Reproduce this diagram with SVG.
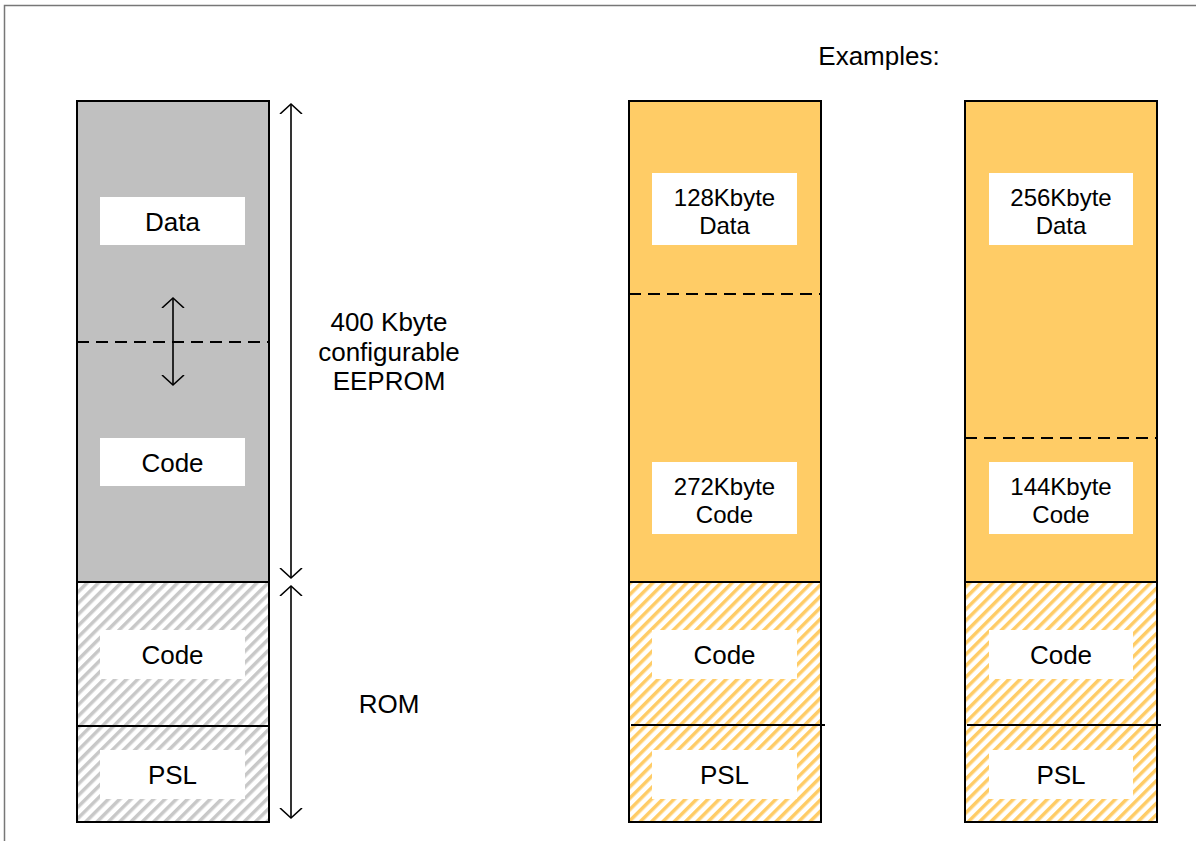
<svg xmlns="http://www.w3.org/2000/svg" width="1196" height="841" viewBox="0 0 1196 841">
<style>
text{font-family:"Liberation Sans",Arial,sans-serif;font-size:26px;fill:#000;text-anchor:middle}
text.s{font-size:24px}
.col{stroke:#000;stroke-width:2}
.lbl{fill:#fff;stroke:none}
.dash{stroke:#000;stroke-width:2;stroke-dasharray:12,7;fill:none}
.sol{stroke:#000;stroke-width:2;fill:none}
.arr{stroke:#000;stroke-width:1.6;fill:none;marker-start:url(#ah);marker-end:url(#ah)}
</style>
<defs>
<pattern id="hg" width="8" height="8" patternUnits="userSpaceOnUse" patternTransform="rotate(45)">
<rect width="8" height="8" fill="#fff"/><rect width="3.5" height="8" fill="#c8c8c8"/>
</pattern>
<pattern id="ho" width="8" height="8" patternUnits="userSpaceOnUse" patternTransform="rotate(45)">
<rect width="8" height="8" fill="#fff"/><rect width="3.5" height="8" fill="#ffcc66"/>
</pattern>
<marker id="ah" viewBox="0 0 20 24" refX="10" refY="12" markerWidth="20" markerHeight="24" markerUnits="userSpaceOnUse" orient="auto-start-reverse">
<path d="M0,1 L10,12 L0,23" fill="none" stroke="#000" stroke-width="1.6"/>
</marker>
</defs>
<rect width="1196" height="841" fill="#fff"/>
<path d="M4.5,841 V5.5 H1196" fill="none" stroke="#777" stroke-width="1.5"/>

<g id="left-column">
<rect x="77" y="101" width="192" height="481" fill="#c0c0c0" class="col"/>
<rect x="77" y="582" width="192" height="240" fill="url(#hg)" class="col"/>
<line x1="77" y1="342" x2="269" y2="342" class="dash"/>
<line x1="77" y1="726" x2="269" y2="726" class="sol"/>
</g>
<g id="left-data"><rect x="100" y="197" width="145" height="48" class="lbl"/><text x="172.5" y="231">Data</text></g>
<g id="left-code"><rect x="100" y="438" width="145" height="48" class="lbl"/><text x="172.5" y="472">Code</text></g>
<g id="left-rom-code"><rect x="100" y="630" width="145" height="49" class="lbl"/><text x="172.5" y="664">Code</text></g>
<g id="left-psl"><rect x="100" y="750" width="145" height="49" class="lbl"/><text x="172.5" y="784">PSL</text></g>

<g id="mid-column">
<rect x="629" y="101" width="192" height="481" fill="#ffcc66" class="col"/>
<rect x="629" y="582" width="192" height="240" fill="url(#ho)" class="col"/>
<line x1="629" y1="294" x2="821" y2="294" class="dash"/>
<line x1="631" y1="725" x2="825" y2="725" class="sol"/>
</g>
<g id="mid-data"><rect x="652" y="173" width="145" height="72" class="lbl"/><text class="s" x="724.5" y="206">128Kbyte</text><text class="s" x="724.5" y="234">Data</text></g>
<g id="mid-code"><rect x="652" y="462" width="145" height="72" class="lbl"/><text class="s" x="724.5" y="495">272Kbyte</text><text class="s" x="724.5" y="523">Code</text></g>
<g id="mid-rom-code"><rect x="652" y="630" width="145" height="49" class="lbl"/><text x="724.5" y="664">Code</text></g>
<g id="mid-psl"><rect x="652" y="750" width="145" height="49" class="lbl"/><text x="724.5" y="784">PSL</text></g>

<g id="right-column">
<rect x="965" y="101" width="192" height="481" fill="#ffcc66" class="col"/>
<rect x="965" y="582" width="192" height="240" fill="url(#ho)" class="col"/>
<line x1="965" y1="438" x2="1157" y2="438" class="dash"/>
<line x1="967" y1="725" x2="1161" y2="725" class="sol"/>
</g>
<g id="right-data"><rect x="989" y="173" width="144" height="72" class="lbl"/><text class="s" x="1061" y="206">256Kbyte</text><text class="s" x="1061" y="234">Data</text></g>
<g id="right-code"><rect x="989" y="462" width="144" height="72" class="lbl"/><text class="s" x="1061" y="495">144Kbyte</text><text class="s" x="1061" y="523">Code</text></g>
<g id="right-rom-code"><rect x="989" y="630" width="144" height="49" class="lbl"/><text x="1061" y="664">Code</text></g>
<g id="right-psl"><rect x="989" y="750" width="144" height="49" class="lbl"/><text x="1061" y="784">PSL</text></g>

<g id="labels">
<text x="879" y="65">Examples:</text>
<text x="389" y="331">400 Kbyte</text>
<text x="389" y="361">configurable</text>
<text x="389" y="390">EEPROM</text>
<text x="389" y="713">ROM</text>
</g>

<g id="connectors">
<line x1="291" y1="104" x2="291" y2="578" class="arr"/>
<line x1="291" y1="586" x2="291" y2="818" class="arr"/>
<line x1="173" y1="298" x2="173" y2="385" class="arr"/>
</g>
</svg>
